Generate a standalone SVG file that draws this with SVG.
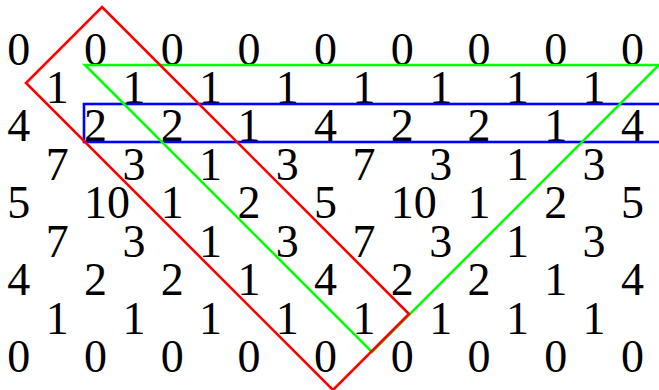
<svg xmlns="http://www.w3.org/2000/svg" width="659" height="390" viewBox="0 0 659 390">
<style>
text{font-family:"Liberation Serif","Times New Roman",serif;font-size:46px;fill:#000;text-anchor:middle}
text.l{text-anchor:start}
.ln{fill:none;stroke-width:2.6;stroke-linejoin:miter}
</style>
<rect width="659" height="390" fill="#fff"/>
<g id="row0">
<text x="18.8" y="64.5">0</text><text x="95.5" y="64.5">0</text><text x="172.2" y="64.5">0</text><text x="248.9" y="64.5">0</text><text x="325.6" y="64.5">0</text><text x="402.3" y="64.5">0</text><text x="479" y="64.5">0</text><text x="555.7" y="64.5">0</text><text x="632.4" y="64.5">0</text>
</g>
<g id="row1">
<text x="57.2" y="103">1</text><text x="133.9" y="103">1</text><text x="210.6" y="103">1</text><text x="287.3" y="103">1</text><text x="364" y="103">1</text><text x="440.7" y="103">1</text><text x="517.4" y="103">1</text><text x="594.1" y="103">1</text>
</g>
<g id="row2">
<text x="18.8" y="141.4">4</text><text x="95.5" y="141.4">2</text><text x="172.2" y="141.4">2</text><text x="248.9" y="141.4">1</text><text x="325.6" y="141.4">4</text><text x="402.3" y="141.4">2</text><text x="479" y="141.4">2</text><text x="555.7" y="141.4">1</text><text x="632.4" y="141.4">4</text>
</g>
<g id="row3">
<text x="57.2" y="179.8">7</text><text x="133.9" y="179.8">3</text><text x="210.6" y="179.8">1</text><text x="287.3" y="179.8">3</text><text x="364" y="179.8">7</text><text x="440.7" y="179.8">3</text><text x="517.4" y="179.8">1</text><text x="594.1" y="179.8">3</text>
</g>
<g id="row4">
<text x="18.8" y="218.3">5</text><text class="l" x="84" y="218.3">10</text><text x="172.2" y="218.3">1</text><text x="248.9" y="218.3">2</text><text x="325.6" y="218.3">5</text><text class="l" x="390.8" y="218.3">10</text><text x="479" y="218.3">1</text><text x="555.7" y="218.3">2</text><text x="632.4" y="218.3">5</text>
</g>
<g id="row5">
<text x="57.2" y="256.7">7</text><text x="133.9" y="256.7">3</text><text x="210.6" y="256.7">1</text><text x="287.3" y="256.7">3</text><text x="364" y="256.7">7</text><text x="440.7" y="256.7">3</text><text x="517.4" y="256.7">1</text><text x="594.1" y="256.7">3</text>
</g>
<g id="row6">
<text x="18.8" y="295.1">4</text><text x="95.5" y="295.1">2</text><text x="172.2" y="295.1">2</text><text x="248.9" y="295.1">1</text><text x="325.6" y="295.1">4</text><text x="402.3" y="295.1">2</text><text x="479" y="295.1">2</text><text x="555.7" y="295.1">1</text><text x="632.4" y="295.1">4</text>
</g>
<g id="row7">
<text x="57.2" y="333.6">1</text><text x="133.9" y="333.6">1</text><text x="210.6" y="333.6">1</text><text x="287.3" y="333.6">1</text><text x="364" y="333.6">1</text><text x="440.7" y="333.6">1</text><text x="517.4" y="333.6">1</text><text x="594.1" y="333.6">1</text>
</g>
<g id="row8">
<text x="18.8" y="372">0</text><text x="95.5" y="372">0</text><text x="172.2" y="372">0</text><text x="248.9" y="372">0</text><text x="325.6" y="372">0</text><text x="402.3" y="372">0</text><text x="479" y="372">0</text><text x="555.7" y="372">0</text><text x="632.4" y="372">0</text>
</g>
<g id="connectors">
<rect id="blue-box" class="ln" stroke="#0000ff" x="84" y="104" width="600" height="38"/>
<polygon id="green-triangle" class="ln" stroke="#00ff00" points="85,65 659,65 372,352"/>
<polygon id="red-box" class="ln" stroke="#ff0000" points="102,7 409,314 333,390 26,83"/>
</g>
</svg>
